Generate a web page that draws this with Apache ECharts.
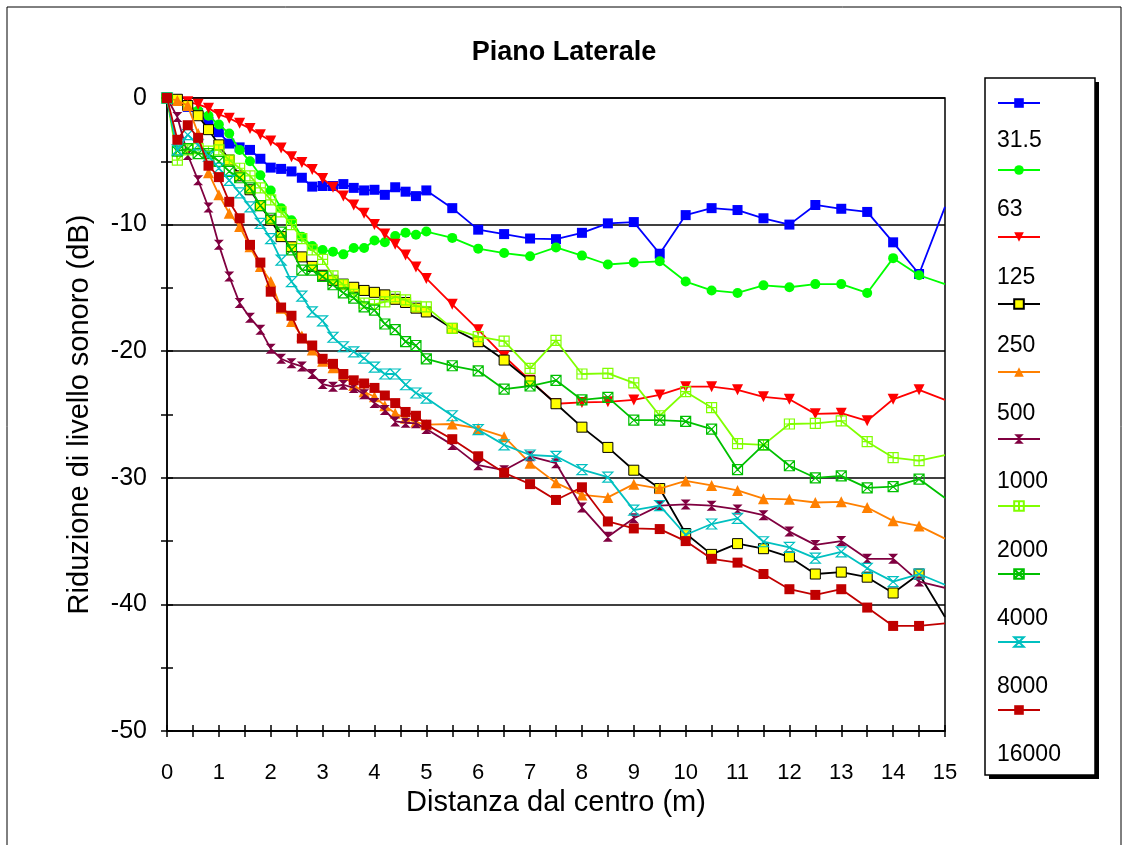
<!DOCTYPE html>
<html>
<head>
<meta charset="utf-8">
<script src="https://cdn.jsdelivr.net/npm/echarts@6/dist/echarts.min.js"></script>
<style>
  html, body { margin: 0; padding: 0; background: #ffffff; }
  #chart { width: 1128px; height: 845px; }
</style>
</head>
<body>
<div id="chart"></div>
<script>
// Distance from the centre (m): 0.2 m steps up to 5 m, then 0.5 m steps
const distances = [
  0, 0.2, 0.4, 0.6, 0.8, 1, 1.2, 1.4, 1.6, 1.8, 2, 2.2, 2.4, 2.6, 2.8,
  3, 3.2, 3.4, 3.6, 3.8, 4, 4.2, 4.4, 4.6, 4.8, 5,
  5.5, 6, 6.5, 7, 7.5, 8, 8.5, 9, 9.5, 10, 10.5, 11, 11.5, 12, 12.5, 13, 13.5, 14, 14.5, 15
];

// Octave band names (Hz)
const bandNames = ['31.5', '63', '125', '250', '500', '1000', '2000', '4000', '8000', '16000'];

// Sound level reduction (dB) per band
const band31_5 = [0, -0.2, -0.7, -1.2, -1.9, -2.7, -3.6, -3.9, -4.1, -4.8, -5.5, -5.6, -5.8, -6.3, -7.0,
  -6.95, -6.95, -6.8, -7.1, -7.3, -7.25, -7.65, -7.05, -7.4, -7.75, -7.3,
  -8.7, -10.4, -10.75, -11.1, -11.15, -10.65, -9.9, -9.8, -12.3, -9.25, -8.7, -8.85, -9.5, -10.0, -8.45, -8.75, -9.0, -11.4, -13.9, -8.6];
const band63 = [0, -0.2, -0.6, -1.0, -1.4, -2.1, -2.8, -4.1, -5.0, -6.1, -7.3, -8.7, -9.65, -10.95, -11.7,
  -12.0, -12.15, -12.35, -11.85, -11.85, -11.25, -11.4, -10.9, -10.65, -10.8, -10.55,
  -11.05, -11.9, -12.25, -12.5, -11.8, -12.45, -13.15, -13.0, -12.9, -14.5, -15.2, -15.4, -14.8, -14.95, -14.7, -14.7, -15.4, -12.65, -14.0, -14.7];
const band125 = [0, -0.15, -0.3, -0.5, -0.8, -1.3, -1.6, -2.0, -2.4, -2.9, -3.4, -3.95, -4.65, -5.1, -5.65,
  -6.35, -7.05, -7.75, -8.45, -9.1, -10.0, -10.75, -11.55, -12.4, -13.35, -14.25,
  -16.3, -18.3, -20.4, -22.3, -24.15, -24.05, -24.0, -23.85, -23.45, -22.8, -22.8, -23.05, -23.6, -23.8, -24.95, -24.9, -25.5, -23.8, -23.05, -23.85];
const band250 = [0, -0.1, -0.6, -1.4, -2.5, -3.7, -4.9, -6.15, -7.25, -8.5, -9.65, -10.95, -11.75, -12.55, -13.3,
  -14.0, -14.4, -14.7, -14.95, -15.2, -15.35, -15.55, -15.9, -16.15, -16.6, -16.9,
  -18.2, -19.25, -20.7, -22.35, -24.15, -26.0, -27.6, -29.4, -30.85, -34.4, -36.05, -35.2, -35.6, -36.25, -37.6, -37.45, -37.85, -39.1, -37.6, -41.0];
const band500 = [0, -0.2, -0.6, -2.8, -5.9, -7.65, -9.1, -10.15, -11.75, -13.3, -14.5, -16.6, -17.65, -18.8, -19.9,
  -20.8, -21.3, -21.9, -22.7, -23.2, -23.6, -24.3, -24.9, -25.3, -25.6, -25.8,
  -25.75, -26.1, -26.75, -28.85, -30.4, -31.35, -31.55, -30.5, -30.85, -30.25, -30.6, -31.0, -31.65, -31.7, -31.95, -31.9, -32.35, -33.4, -33.8, -34.8];
const band1000 = [0, -1.5, -4.5, -6.5, -8.65, -11.6, -14.1, -16.2, -17.35, -18.3, -19.8, -20.6, -20.95, -21.2, -21.8,
  -22.6, -22.8, -22.65, -22.9, -23.4, -24.1, -24.65, -25.55, -25.65, -25.7, -26.15,
  -27.4, -29.0, -29.4, -28.3, -28.85, -32.35, -34.65, -33.2, -32.2, -32.1, -32.2, -32.5, -32.95, -34.25, -35.3, -35.0, -36.4, -36.4, -38.2, -38.7];
const band2000 = [0, -4.9, -4.1, -4.0, -4.2, -4.1, -4.9, -5.55, -6.15, -7.1, -8.05, -9.0, -10.0, -11.1, -12.0,
  -12.75, -14.05, -14.75, -15.5, -16.2, -16.3, -16.1, -15.7, -15.95, -16.45, -16.5,
  -18.2, -18.85, -19.2, -21.35, -19.15, -21.8, -21.75, -22.5, -25.1, -23.2, -24.45, -27.3, -27.4, -25.75, -25.7, -25.5, -27.15, -28.4, -28.65, -28.2];
const band4000 = [0, -4.2, -4.0, -4.4, -4.4, -5.0, -5.8, -6.3, -7.1, -8.5, -9.5, -10.6, -12.0, -13.6, -13.6,
  -14.1, -14.75, -15.4, -15.8, -16.5, -16.75, -17.85, -18.3, -19.25, -19.55, -20.6,
  -21.15, -21.55, -23.0, -22.75, -22.3, -23.85, -23.65, -25.45, -25.45, -25.55, -26.15, -29.35, -27.4, -29.05, -30.0, -29.85, -30.8, -30.7, -30.1, -31.6];
const band8000 = [0, -4.1, -2.9, -3.7, -4.6, -5.55, -6.5, -7.5, -8.6, -9.9, -11.1, -12.8, -14.5, -15.65, -16.9,
  -17.6, -18.9, -19.65, -20.05, -20.55, -21.25, -21.8, -21.8, -22.65, -23.3, -23.7,
  -25.1, -26.2, -27.4, -28.2, -28.3, -29.35, -29.95, -32.55, -32.2, -34.5, -33.65, -33.2, -35.05, -35.5, -36.35, -35.85, -37.15, -38.2, -37.6, -38.45];
const band16000 = [0, -3.3, -2.15, -3.15, -5.35, -6.25, -8.2, -9.5, -11.6, -13.0, -15.3, -16.55, -17.2, -19.0, -19.55,
  -20.6, -21.0, -21.8, -22.3, -22.55, -22.9, -23.5, -24.1, -24.8, -25.1, -25.8,
  -26.95, -28.3, -29.6, -30.5, -31.75, -30.75, -33.45, -34.0, -34.05, -35.0, -36.4, -36.7, -37.6, -38.8, -39.25, -38.8, -40.25, -41.7, -41.7, -41.5];

const bandValues = [band31_5, band63, band125, band250, band500, band1000, band2000, band4000, band8000, band16000];

const FONT = '"Liberation Sans", Arial, Helvetica, sans-serif';

// Marker shapes
const TRI_DOWN = 'path://M0,0L10,0L5,9Z';
const HOURGLASS = 'path://M0,0L10,0L5,5L10,10L0,10L5,5Z';
const BOX_PLUS = 'path://M0,0H10V10H0ZM5,0V10M0,5H10';
const BOX_CROSS = 'path://M0,0H10V10H0ZM0,0L10,10M10,0L0,10';
const HOLLOW = 'rgba(0,0,0,0)';

// line colour, marker shape, marker size, marker fill, marker outline
const bandStyles = [
  { line: '#0000FF', symbol: 'rect',     size: 10,       fill: '#0000FF', edge: '#0000FF', edgeW: 0 },
  { line: '#00FF00', symbol: 'circle',   size: 10,       fill: '#00FF00', edge: '#00FF00', edgeW: 0 },
  { line: '#FF0000', symbol: TRI_DOWN,   size: 11,       fill: '#FF0000', edge: '#FF0000', edgeW: 0 },
  { line: '#000000', symbol: 'rect',     size: 10,       fill: '#FFFF00', edge: '#000000', edgeW: 1 },
  { line: '#FF8000', symbol: 'triangle', size: 11,       fill: '#FF8000', edge: '#FF8000', edgeW: 0 },
  { line: '#800040', symbol: HOURGLASS,  size: [10, 10], fill: '#800040', edge: '#800040', edgeW: 0 },
  { line: '#80FF00', symbol: BOX_PLUS,   size: 10,       fill: HOLLOW,    edge: '#80FF00', edgeW: 1.2 },
  { line: '#00C000', symbol: BOX_CROSS,  size: 10,       fill: HOLLOW,    edge: '#00C000', edgeW: 1.2 },
  { line: '#00C0C0', symbol: HOURGLASS,  size: [10, 10], fill: HOLLOW,    edge: '#00C0C0', edgeW: 1.2 },
  { line: '#C00000', symbol: 'rect',     size: 10,       fill: '#C00000', edge: '#C00000', edgeW: 0 }
];

function toPoints(values) {
  const last = values.length - 1;
  return values.map(function (v, i) {
    // the final point sits on the plot edge, where its marker is cut away
    return i === last ? { value: [distances[i], v], symbol: 'none' } : [distances[i], v];
  });
}

const series = bandNames.map(function (name, k) {
  const st = bandStyles[k];
  return {
    type: 'line',
    name: name,
    data: toPoints(bandValues[k]),
    symbol: st.symbol,
    symbolSize: st.size,
    showSymbol: true,
    lineStyle: { color: st.line, width: 1.8 },
    itemStyle: { color: st.fill, borderColor: st.edge, borderWidth: st.edgeW },
    emphasis: { disabled: true },
    z: 3 + k
  };
});

const black = { color: '#000', width: 1.5 };

const chart = echarts.init(document.getElementById('chart'), null, { renderer: 'canvas' });
chart.setOption({
  animation: false,
  backgroundColor: '#ffffff',
  textStyle: { fontFamily: FONT, color: '#000' },
  title: {
    text: 'Piano Laterale',
    left: 'center',
    top: 34,
    textStyle: { fontFamily: FONT, fontSize: 27, fontWeight: 'bold', color: '#000' }
  },
  graphic: [
    { type: 'rect', z: -10, silent: true, shape: { x: 7, y: 7, width: 1114, height: 900 },
      style: { fill: 'none', stroke: '#000', lineWidth: 1 } },
    { type: 'rect', z: -9, silent: true, shape: { x: 989, y: 82, width: 110, height: 697 },
      style: { fill: '#000' } },
    { type: 'rect', z: -8, silent: true, shape: { x: 985, y: 78, width: 110, height: 697 },
      style: { fill: '#fff', stroke: '#000', lineWidth: 1.5 } }
  ],
  legend: [
    {
      // line + marker samples
      data: bandNames,
      orient: 'vertical',
      left: 997,
      top: 97,
      padding: 0,
      itemWidth: 42,
      itemHeight: 12,
      itemGap: 56.2,
      selectedMode: false,
      formatter: function () { return ''; },
      textStyle: { fontSize: 8 },
      z: 20
    },
    {
      // band labels under each sample
      data: bandNames,
      orient: 'vertical',
      left: 992,
      top: 129,
      padding: 0,
      icon: 'none',
      itemWidth: 0,
      itemHeight: 24,
      itemGap: 44.2,
      selectedMode: false,
      textStyle: { fontFamily: FONT, fontSize: 23, lineHeight: 24, color: '#000' },
      z: 20
    }
  ],
  grid: {
    left: 167, right: 183, top: 98, bottom: 114,
    show: true, borderColor: '#000', borderWidth: 1.5, backgroundColor: 'transparent',
    outerBoundsMode: 'none'
  },
  xAxis: [
    {
      type: 'value', min: 0, max: 15, interval: 1, position: 'bottom',
      name: 'Distanza dal centro (m)', nameLocation: 'middle', nameGap: 54,
      nameTextStyle: { fontFamily: FONT, fontSize: 29, color: '#000' },
      axisLine: { show: true, onZero: false, lineStyle: black },
      axisTick: { show: true, inside: false, length: 6, lineStyle: black },
      minorTick: { show: true, splitNumber: 2, length: 6, lineStyle: black },
      axisLabel: { show: true, margin: 31, fontFamily: FONT, fontSize: 22, color: '#000' },
      splitLine: { show: false }
    },
    {
      type: 'value', min: 0, max: 15, interval: 1, position: 'bottom',
      axisLine: { show: false, onZero: false },
      axisTick: { show: true, inside: true, length: 6, lineStyle: black },
      minorTick: { show: true, splitNumber: 2, length: 6, lineStyle: black },
      axisLabel: { show: false },
      splitLine: { show: false }
    }
  ],
  yAxis: [
    {
      type: 'value', min: -50, max: 0, interval: 10, position: 'left',
      name: 'Riduzione di livello sonoro (dB)', nameLocation: 'middle', nameGap: 73,
      nameTextStyle: { fontFamily: FONT, fontSize: 29, color: '#000' },
      axisLine: { show: true, onZero: false, lineStyle: black },
      axisTick: { show: true, inside: false, length: 6, lineStyle: black },
      minorTick: { show: true, splitNumber: 2, length: 6, lineStyle: black },
      axisLabel: { show: true, margin: 20, fontFamily: FONT, fontSize: 25, color: '#000' },
      splitLine: { show: true, lineStyle: black }
    },
    {
      type: 'value', min: -50, max: 0, interval: 10, position: 'left',
      axisLine: { show: false, onZero: false },
      axisTick: { show: true, inside: true, length: 6, lineStyle: black },
      minorTick: { show: true, splitNumber: 2, length: 6, lineStyle: black },
      axisLabel: { show: false },
      splitLine: { show: false }
    }
  ],
  series: series
});
</script>
</body>
</html>
